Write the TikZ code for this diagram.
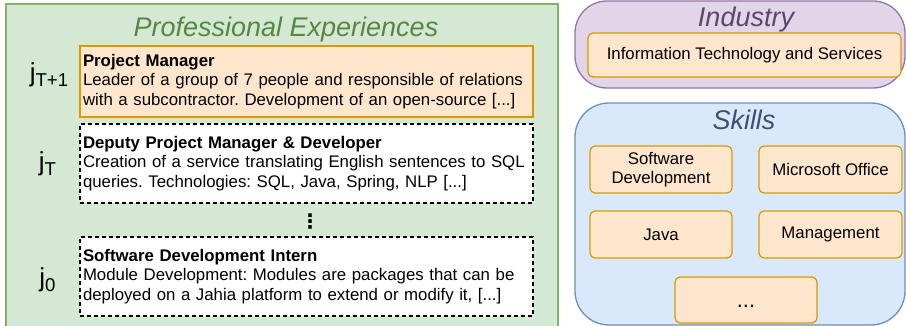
\documentclass[tikz,border=0pt]{standalone}
\usepackage{fontspec}
\setmainfont{Liberation Sans}
\newfontfamily\symfont{DejaVu Sans}
\usetikzlibrary{positioning}
\frenchspacing

\definecolor{grnfill}{HTML}{D5E8D4}
\definecolor{grnline}{HTML}{82B366}
\definecolor{grntext}{RGB}{88,135,68}
\definecolor{purfill}{HTML}{E1D5E7}
\definecolor{purline}{HTML}{9673A6}
\definecolor{purtext}{RGB}{90,72,108}
\definecolor{blufill}{HTML}{DAE8FC}
\definecolor{bluline}{HTML}{6C8EBF}
\definecolor{blutext}{RGB}{62,80,110}
\definecolor{orgfill}{HTML}{FFE6CC}
\definecolor{orgline}{HTML}{D79B00}

\newcommand{\joblab}[1]{{\fontsize{26}{26}\selectfont j}\raisebox{-5.5pt}{\fontsize{18.6}{18.6}\selectfont #1}}

\begin{document}
\begin{tikzpicture}[x=1pt,y=-1pt,
  paneltitle/.style={anchor=base,font=\fontsize{27}{30}\selectfont\itshape},
  jobbox/.style={draw,line width=1.2pt,minimum width=453pt,text width=447pt,inner xsep=3pt,align=left,
    font=\fontsize{16.8}{19.7}\selectfont},
  skillbox/.style={draw=orgline,fill=orgfill,line width=1.2pt,rounded corners=5pt,align=center,
    font=\fontsize{16.8}{19.5}\selectfont}]
\useasboundingbox (0,0) rectangle (906,326);

% panels
\node[draw=grnline,fill=grnfill,line width=1.3pt,minimum width=552pt,minimum height=330pt] (exp) at (282,169) {};
\node[draw=purline,fill=purfill,line width=1.3pt,rounded corners=32pt,minimum width=330pt,minimum height=87pt] (industry) at (740,44.5) {};
\node[draw=bluline,fill=blufill,line width=1.3pt,rounded corners=34pt,minimum width=330pt,minimum height=222pt] (skills) at (740,214) {};

\node[paneltitle,text=grntext] (exptitle) at (286,37) {Professional Experiences};
\node[paneltitle,text=purtext] (indtitle) at (746,27) {Industry};
\node[paneltitle,text=blutext] (skltitle) at (744,130) {Skills};

% jobs
\node[jobbox,draw=orgline,fill=orgfill,minimum height=71pt] (job2) at (306.5,81.5)
  {\textbf{Project Manager}\\Leader of a group of 7 people and responsible of relations\\with a subcontractor. Development of an open-source [...]};
\node[jobbox,dash pattern=on 4pt off 3pt,fill=white,minimum height=79pt] (job1) at (306.5,163.5)
  {\textbf{Deputy Project Manager \& Developer}\\Creation of a service translating English sentences to SQL\\queries. Technologies: SQL, Java, Spring, NLP [...]};
\node[jobbox,dash pattern=on 4pt off 3pt,fill=white,minimum height=79pt] (job0) at (306.5,276.5)
  {\textbf{Software Development Intern}\\Module Development: Modules are packages that can be\\deployed on a Jahia platform to extend or modify it, [...]};
\node[font=\symfont\bfseries\fontsize{20}{20}\selectfont] (more) at (310,222) {⋮};

\node[anchor=base] (lab2) at (49,81.5) {\joblab{T+1}};
\node[anchor=base] (lab1) at (47.5,170.5) {\joblab{T}};
\node[anchor=base] (lab0) at (47.5,286.5) {\joblab{0}};

% industry and skills
\node[skillbox,minimum width=313pt,minimum height=44pt] (ind) at (744.5,55) {Information Technology and Services};
\node[skillbox,minimum width=142pt,minimum height=47pt] (swdev) at (661,169.5) {Software\\Development};
\node[skillbox,minimum width=143pt,minimum height=47pt] (office) at (830.5,169.5) {Microsoft Office};
\node[skillbox,minimum width=142pt,minimum height=47pt] (java) at (661,234.5) {Java};
\node[skillbox,minimum width=143pt,minimum height=47pt] (mgmt) at (830.5,234.5) {Management};
\node[skillbox,minimum width=142pt,minimum height=46pt] (etc) at (746,300) {};
\node[font=\fontsize{22}{22}\selectfont] (etcdots) at (746,306) {...};
\end{tikzpicture}
\end{document}
